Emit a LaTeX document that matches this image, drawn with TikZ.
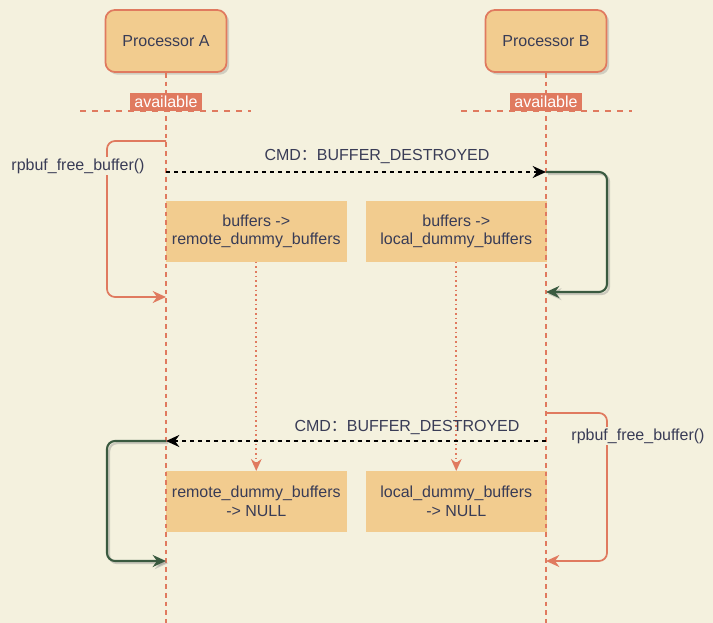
\documentclass[tikz,border=0pt]{standalone}
\usepackage{fontspec}
\setmainfont{Liberation Sans}
\newfontfamily\cjk{Noto Sans CJK SC}
\usetikzlibrary{arrows.meta, positioning, shadows}
\definecolor{paper}{HTML}{F4F1DE}
\definecolor{block}{HTML}{F2CC8F}
\definecolor{edge}{HTML}{E07A5F}
\definecolor{ink}{HTML}{393C56}
\definecolor{moss}{HTML}{3A5A40}
\tikzset{
  proc/.style={rectangle, rounded corners=7pt, draw=edge, line width=1.3pt,
               fill=block, text=ink, minimum width=90.75pt, minimum height=46.5pt,
               font=\fontsize{12}{14}\selectfont,
               drop shadow={shadow xshift=2pt, shadow yshift=-2pt, opacity=0.3}},
  avail/.style={rectangle, fill=edge, text=white, inner xsep=3.5pt, inner ysep=1pt,
                minimum height=13.5pt, font=\fontsize{12}{13}\selectfont},
  buf/.style={rectangle, fill=block, draw=block, text=ink, align=center,
              minimum width=135pt, minimum height=45pt, anchor=north west,
              font=\fontsize{12}{14}\selectfont},
  tag/.style={text=ink, font=\fontsize{12}{14}\selectfont, inner sep=1pt},
  life/.style={draw=edge, line width=1.3pt, dash pattern=on 3.5pt off 3pt},
  rule/.style={draw=edge, line width=1.3pt, dash pattern=on 4.5pt off 4.5pt},
  msg/.style={-{Stealth[length=10pt, width=9pt]}, line width=1.3pt,
              dash pattern=on 3pt off 3pt, draw=black},
  redloop/.style={-{Stealth[length=10pt, width=9pt]}, line width=1.3pt,
                  draw=edge, rounded corners=6pt},
  grnloop/.style={-{Stealth[length=10pt, width=9pt]}, line width=1.6pt,
                  draw=moss, rounded corners=6pt},
  grnshade/.style={grnloop, draw=black!50, opacity=0.35,
                   transform canvas={shift={(1.6pt,-1.6pt)}}},
  drop/.style={-{Stealth[length=9pt, width=8pt]}, line width=1.3pt, draw=edge,
               dash pattern=on 1.3pt off 2.2pt},
}

\begin{document}
\begin{tikzpicture}[x=0.75pt, y=-0.75pt]
  \path[use as bounding box, fill=paper] (0,0) rectangle (713,623);

  % ---- the two processors ----
  \node[proc] (procA) at (166,41) {Processor A};
  \node[proc] (procB) at (546,41) {Processor B};
  \coordinate (endA) at (166,623);
  \coordinate (endB) at (546,623);

  % ---- buffer boxes ----
  \node[buf] (bufA)  at (166,201) {buffers ->\\remote\_dummy\_buffers};
  \node[buf] (bufB)  at (366,201) {buffers ->\\local\_dummy\_buffers};
  \node[buf] (nullA) at (166,471) {remote\_dummy\_buffers\\-> NULL};
  \node[buf] (nullB) at (366,471) {local\_dummy\_buffers\\-> NULL};

  % ---- lifelines ----
  \draw[life] (procA) -- (endA);
  \draw[life] (procB) -- (endB);
  \draw[rule] (80,111) -- (251,111);
  \draw[rule] (461,111) -- (632,111);
  \node[avail] (availA) at (166,102) {available};
  \node[avail] (availB) at (546,102) {available};

  % ---- A frees its buffer, tells B ----
  \draw[redloop] (procA.south |- 0,141) -| (107,220) |- (procA.south |- 0,297);
  \node[tag, fill=paper] (freeA) at (78,166) {rpbuf\_free\_buffer()};
  \draw[msg] (procA.south |- 0,172) -- (procB.south |- 0,172);
  \node[tag] (cmdAB) at (377,157) {CMD{\cjk ：}BUFFER\_DESTROYED};
  \draw[grnshade] (procB.south |- 0,172) -| (607,230) |- (procB.south |- 0,292);
  \draw[grnloop] (procB.south |- 0,172) -| (607,230) |- (procB.south |- 0,292);

  % ---- B frees its buffer, tells A ----
  \draw[drop] (bufA) -- (nullA);
  \draw[drop] (bufB) -- (nullB);
  \draw[redloop] (procB.south |- 0,413) -| (607,490) |- (procB.south |- 0,561);
  \node[tag, fill=paper] (freeB) at (638,436) {rpbuf\_free\_buffer()};
  \draw[msg] (procB.south |- 0,441) -- (procA.south |- 0,441);
  \node[tag] (cmdBA) at (407,428) {CMD{\cjk ：}BUFFER\_DESTROYED};
  \draw[grnshade] (procA.south |- 0,441) -| (107,500) |- (procA.south |- 0,561);
  \draw[grnloop] (procA.south |- 0,441) -| (107,500) |- (procA.south |- 0,561);
\end{tikzpicture}
\end{document}
